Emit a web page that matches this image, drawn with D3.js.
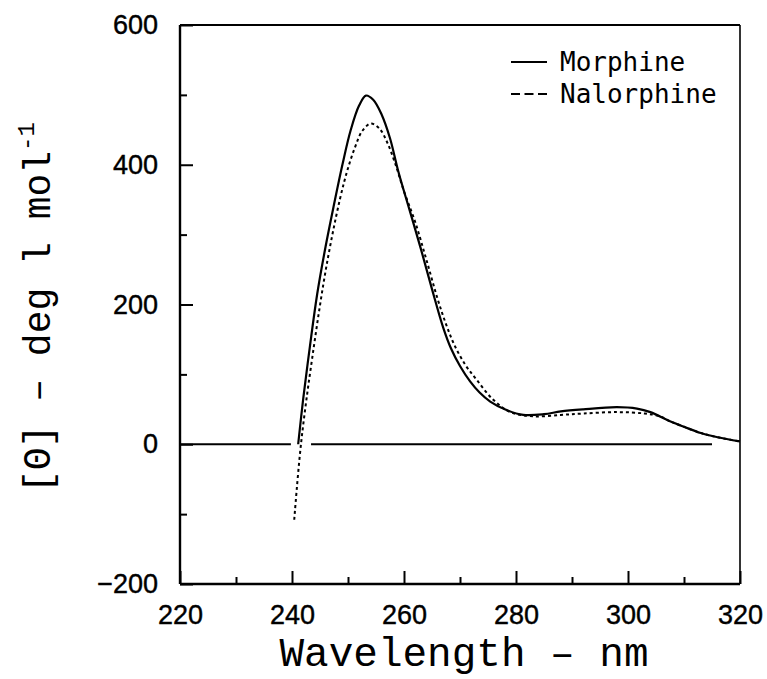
<!DOCTYPE html>
<html>
<head>
<meta charset="utf-8">
<script src="https://cdn.jsdelivr.net/npm/d3@7"></script>
<style>
  body { margin: 0; background: #fff; }
  svg { display: block; }
</style>
</head>
<body>
<svg id="drawing_region"></svg>
<script>

// wavelength (nm) / ellipticity readings
var morphine = [
    [241.1, 0], [242.0, 65], [243.2, 140], [244.5, 215], [246.0, 283],
    [247.5, 343], [249.0, 400], [250.5, 450], [252.0, 485], [253.2, 499],
    [254.5, 493], [256.0, 472], [257.5, 438], [259.0, 390], [261.0, 335],
    [263.0, 280], [265.0, 222], [267.0, 167], [268.4, 137], [270.0, 112],
    [271.8, 90], [273.5, 74], [275.4, 61], [278.0, 50], [281.3, 42],
    [285.0, 43], [288.0, 47], [292.0, 50], [298.0, 53], [301.6, 51],
    [304.0, 46], [307.5, 33], [310.0, 25], [313.0, 16], [316.0, 10],
    [320.0, 4]
];

var nalorphine = [
    [240.4, -108], [241.6, 0], [243.6, 123], [246.4, 266], [249.3, 375],
    [251.25, 425], [252.6, 449], [254.1, 459], [255.6, 452], [257.0, 432],
    [258.5, 400], [260.0, 362], [262.0, 318], [264.0, 264], [266.0, 208],
    [267.5, 172], [269.0, 142], [271.0, 113], [273.0, 92], [275.9, 64],
    [279.0, 46], [283.0, 40], [288.0, 42], [292.0, 44], [298.0, 46],
    [303.0, 44], [305.7, 40], [307.5, 33], [310.0, 25], [313.0, 16],
    [316.0, 10], [320.0, 4]
];

var baseline_segments = [[220, 239.8], [243.4, 315]];

var x_major = [220, 240, 260, 280, 300, 320];
var x_minor = [230, 250, 270, 290, 310];
var y_major = [-200, 0, 200, 400, 600];
var y_minor = [-100, 100, 300, 500];

var legend_items = [
    {label: 'Morphine', dash: null},
    {label: 'Nalorphine', dash: '9,4.5'}
];

var config = {
    width: 767,
    height: 679,
    margin: {top: 25, right: 27, bottom: 95, left: 180}
};

var svg = d3.select('#drawing_region')
    .attr('width', config.width)
    .attr('height', config.height);

var inner_width = config.width - config.margin.left - config.margin.right;
var inner_height = config.height - config.margin.top - config.margin.bottom;

var chart = svg.append('g')
    .attr('transform', `translate(${config.margin.left}, ${config.margin.top})`);

var xscale = d3.scaleLinear().domain([220, 320]).range([0, inner_width]);
var yscale = d3.scaleLinear().domain([-200, 600]).range([inner_height, 0]);

var tick_font = '"Liberation Sans", Arial, sans-serif';

// minor ticks (no labels)
chart.append('g')
    .attr('class', 'minor')
    .attr('transform', `translate(0, ${inner_height})`)
    .call(d3.axisBottom(xscale).tickValues(x_minor).tickSize(-7).tickSizeOuter(0));
chart.append('g')
    .attr('class', 'minor')
    .call(d3.axisLeft(yscale).tickValues(y_minor).tickSize(-7).tickSizeOuter(0));
chart.selectAll('.minor text').remove();

// major ticks, pointing inward
var xaxis_group = chart.append('g')
    .attr('transform', `translate(0, ${inner_height})`)
    .call(d3.axisBottom(xscale).tickValues(x_major).tickSize(-13).tickPadding(21).tickSizeOuter(0));

var yaxis_group = chart.append('g')
    .call(d3.axisLeft(yscale).tickValues(y_major).tickSize(-13).tickPadding(22).tickSizeOuter(0));

chart.selectAll('.domain').remove();
chart.selectAll('.tick line').attr('stroke', '#000').attr('stroke-width', 2);
chart.selectAll('.tick text')
    .attr('fill', '#000')
    .attr('stroke', '#000')
    .attr('stroke-width', 0.4)
    .style('font-family', tick_font)
    .style('font-size', '27px');

// frame
chart.append('line').attr('x1', 0).attr('x2', inner_width).attr('y1', 0).attr('y2', 0)
    .attr('stroke', '#000').attr('stroke-width', 2);
chart.append('line').attr('x1', inner_width).attr('x2', inner_width).attr('y1', 0).attr('y2', inner_height)
    .attr('stroke', '#000').attr('stroke-width', 1.6);
chart.append('line').attr('x1', 0).attr('x2', 0).attr('y1', 0).attr('y2', inner_height)
    .attr('stroke', '#000').attr('stroke-width', 2.4);
chart.append('line').attr('x1', 0).attr('x2', inner_width).attr('y1', inner_height).attr('y2', inner_height)
    .attr('stroke', '#000').attr('stroke-width', 2.4);

// zero line
chart.selectAll('.zero').data(baseline_segments).enter()
    .append('line')
    .attr('class', 'zero')
    .attr('x1', d => xscale(d[0]))
    .attr('x2', d => xscale(d[1]))
    .attr('y1', yscale(0))
    .attr('y2', yscale(0))
    .attr('stroke', '#000')
    .attr('stroke-width', 2);

var line = d3.line()
    .x(d => xscale(d[0]))
    .y(d => yscale(d[1]))
    .curve(d3.curveCatmullRom.alpha(0.5));

chart.append('path')
    .datum(nalorphine)
    .attr('d', line)
    .attr('fill', 'none')
    .attr('stroke', '#000')
    .attr('stroke-width', 2)
    .attr('stroke-dasharray', '3,3');

chart.append('path')
    .datum(morphine)
    .attr('d', line)
    .attr('fill', 'none')
    .attr('stroke', '#000')
    .attr('stroke-width', 2.2);

// legend
var legend = svg.append('g').attr('transform', 'translate(511, 62)');
legend.selectAll('line').data(legend_items).enter()
    .append('line')
    .attr('x1', 0).attr('x2', 36)
    .attr('y1', (d, i) => i * 32).attr('y2', (d, i) => i * 32)
    .attr('stroke', '#000')
    .attr('stroke-width', 2)
    .attr('stroke-dasharray', d => d.dash);
legend.selectAll('text').data(legend_items).enter()
    .append('text')
    .attr('x', 49)
    .attr('y', (d, i) => i * 32 + 9)
    .style('font-family', '"DejaVu Sans Mono", monospace')
    .style('font-size', '26px')
    .text(d => d.label);

// axis titles
svg.append('text')
    .attr('x', 464)
    .attr('y', 666)
    .attr('text-anchor', 'middle')
    .style('font-family', '"Liberation Mono", "Courier New", monospace')
    .style('font-size', '41px')
    .text('Wavelength \u2013 nm');

var ytitle = svg.append('text')
    .attr('transform', 'translate(50, 493) rotate(-90)')
    .attr('text-anchor', 'start')
    .style('font-family', '"Liberation Mono", "Courier New", monospace')
    .style('font-size', '38px');
ytitle.append('tspan').text('[\u0398] \u2013 deg l mol');
ytitle.append('tspan')
    .attr('dy', -16)
    .style('font-size', '24px')
    .text('-1');

</script>
</body>
</html>
